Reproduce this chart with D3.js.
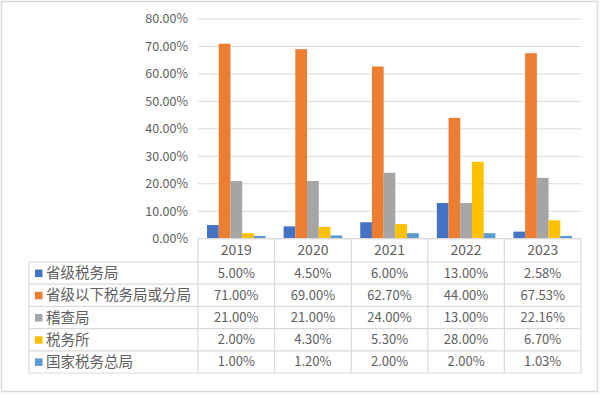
<!DOCTYPE html>
<html>
<head>
<meta charset="utf-8">
<script src="https://cdn.jsdelivr.net/npm/d3@7"></script>
<style>
  body { margin: 0; background: #fff; }
  svg text { font-family: "Noto Sans CJK SC", "Noto Sans", sans-serif; fill: #606060; }
</style>
</head>
<body>
<div id="chart"></div>
<script>
const years = ["2019", "2020", "2021", "2022", "2023"];
const seriesNames = ["省级税务局", "省级以下税务局或分局", "稽查局", "税务所", "国家税务总局"];
const provincial = [0.05, 0.045, 0.06, 0.13, 0.0258];
const belowProvincial = [0.71, 0.69, 0.627, 0.44, 0.6753];
const inspection = [0.21, 0.21, 0.24, 0.13, 0.2216];
const taxOffice = [0.02, 0.043, 0.053, 0.28, 0.067];
const stateAdmin = [0.01, 0.012, 0.02, 0.02, 0.0103];
const yTicks = [0, 0.1, 0.2, 0.3, 0.4, 0.5, 0.6, 0.7, 0.8];

const seriesValues = [provincial, belowProvincial, inspection, taxOffice, stateAdmin];
const colors = ["#4472C4", "#ED7D31", "#A5A5A5", "#FFC000", "#5B9BD5"];

const width = 600, height = 394;
const plotLeft = 198, plotRight = 581, plotTop = 19, plotBottom = 238.7;
const tableLeft = 29, tableBottom = 373, headerBottom = 262;
const grid = "#D9D9D9";

const svg = d3.select("#chart")
  .append("svg")
  .attr("width", width)
  .attr("height", height);

// frame
svg.append("rect")
  .attr("x", 1.5).attr("y", 1.5)
  .attr("width", 596).attr("height", 390)
  .attr("fill", "#fff")
  .attr("stroke", grid)
  .attr("stroke-width", 1.5);

const y = d3.scaleLinear().domain([0, 0.8]).range([plotBottom, plotTop]);
const x0 = d3.scaleBand().domain(years).range([plotLeft, plotRight]);
const x1 = d3.scaleBand().domain(seriesNames).range([0, x0.bandwidth()])
  .paddingInner(0).paddingOuter(0.77);
const fmt = d3.format(".2%");

// gridlines
svg.append("g")
  .selectAll("line")
  .data(yTicks)
  .join("line")
  .attr("x1", plotLeft).attr("x2", plotRight)
  .attr("y1", d => y(d)).attr("y2", d => y(d))
  .attr("stroke", grid).attr("stroke-width", 1);

svg.append("g")
  .selectAll("text")
  .data(yTicks)
  .join("text")
  .attr("x", 188)
  .attr("y", d => y(d))
  .attr("dy", "0.35em")
  .attr("text-anchor", "end")
  .attr("font-size", 12.5)
  .text(d => fmt(d));

// bars
const groups = svg.append("g")
  .selectAll("g")
  .data(seriesNames.map((name, i) => ({ name, values: seriesValues[i], color: colors[i] })))
  .join("g")
  .attr("fill", d => d.color);

groups.selectAll("rect")
  .data(d => d.values.map((v, j) => ({ name: d.name, year: years[j], v })))
  .join("rect")
  .attr("x", d => x0(d.year) + x1(d.name))
  .attr("width", x1.bandwidth())
  .attr("y", d => y(d.v))
  .attr("height", d => plotBottom - y(d.v));

// data table
const rowY = d3.scaleBand().domain(seriesNames).range([headerBottom, tableBottom]);
const table = svg.append("g").attr("stroke", grid).attr("stroke-width", 1.2);

// horizontal lines
table.append("line")
  .attr("x1", plotLeft).attr("x2", plotRight)
  .attr("y1", plotBottom).attr("y2", plotBottom);
table.selectAll("line.row")
  .data(seriesNames)
  .join("line")
  .attr("class", "row")
  .attr("x1", tableLeft).attr("x2", plotRight)
  .attr("y1", d => rowY(d)).attr("y2", d => rowY(d));
table.append("line")
  .attr("x1", tableLeft).attr("x2", plotRight)
  .attr("y1", tableBottom).attr("y2", tableBottom);

// vertical lines
table.append("line")
  .attr("x1", tableLeft).attr("x2", tableLeft)
  .attr("y1", headerBottom).attr("y2", tableBottom);
table.selectAll("line.col")
  .data(years.map(d => x0(d)).concat([plotRight]))
  .join("line")
  .attr("class", "col")
  .attr("x1", d => d).attr("x2", d => d)
  .attr("y1", plotBottom).attr("y2", tableBottom);

// year header
svg.append("g")
  .selectAll("text")
  .data(years)
  .join("text")
  .attr("x", d => x0(d) + x0.bandwidth() / 2)
  .attr("y", (plotBottom + headerBottom) / 2)
  .attr("dy", "0.35em")
  .attr("text-anchor", "middle")
  .attr("font-size", 14)
  .text(d => d);

// row labels with legend keys
const rows = svg.append("g")
  .selectAll("g")
  .data(seriesNames.map((name, i) => ({ name, values: seriesValues[i], color: colors[i] })))
  .join("g")
  .attr("transform", d => `translate(0,${rowY(d.name) + rowY.bandwidth() / 2})`);

rows.append("rect")
  .attr("x", 35).attr("y", -3.5)
  .attr("width", 7.5).attr("height", 7.5)
  .attr("fill", d => d.color);

rows.append("text")
  .attr("x", 46)
  .attr("dy", "0.35em")
  .attr("font-size", 14.5)
  .text(d => d.name);

rows.selectAll("text.val")
  .data(d => d.values.map((v, j) => ({ year: years[j], v })))
  .join("text")
  .attr("class", "val")
  .attr("x", d => x0(d.year) + x0.bandwidth() / 2)
  .attr("dy", "0.35em")
  .attr("text-anchor", "middle")
  .attr("font-size", 13)
  .text(d => fmt(d.v));
</script>
</body>
</html>
